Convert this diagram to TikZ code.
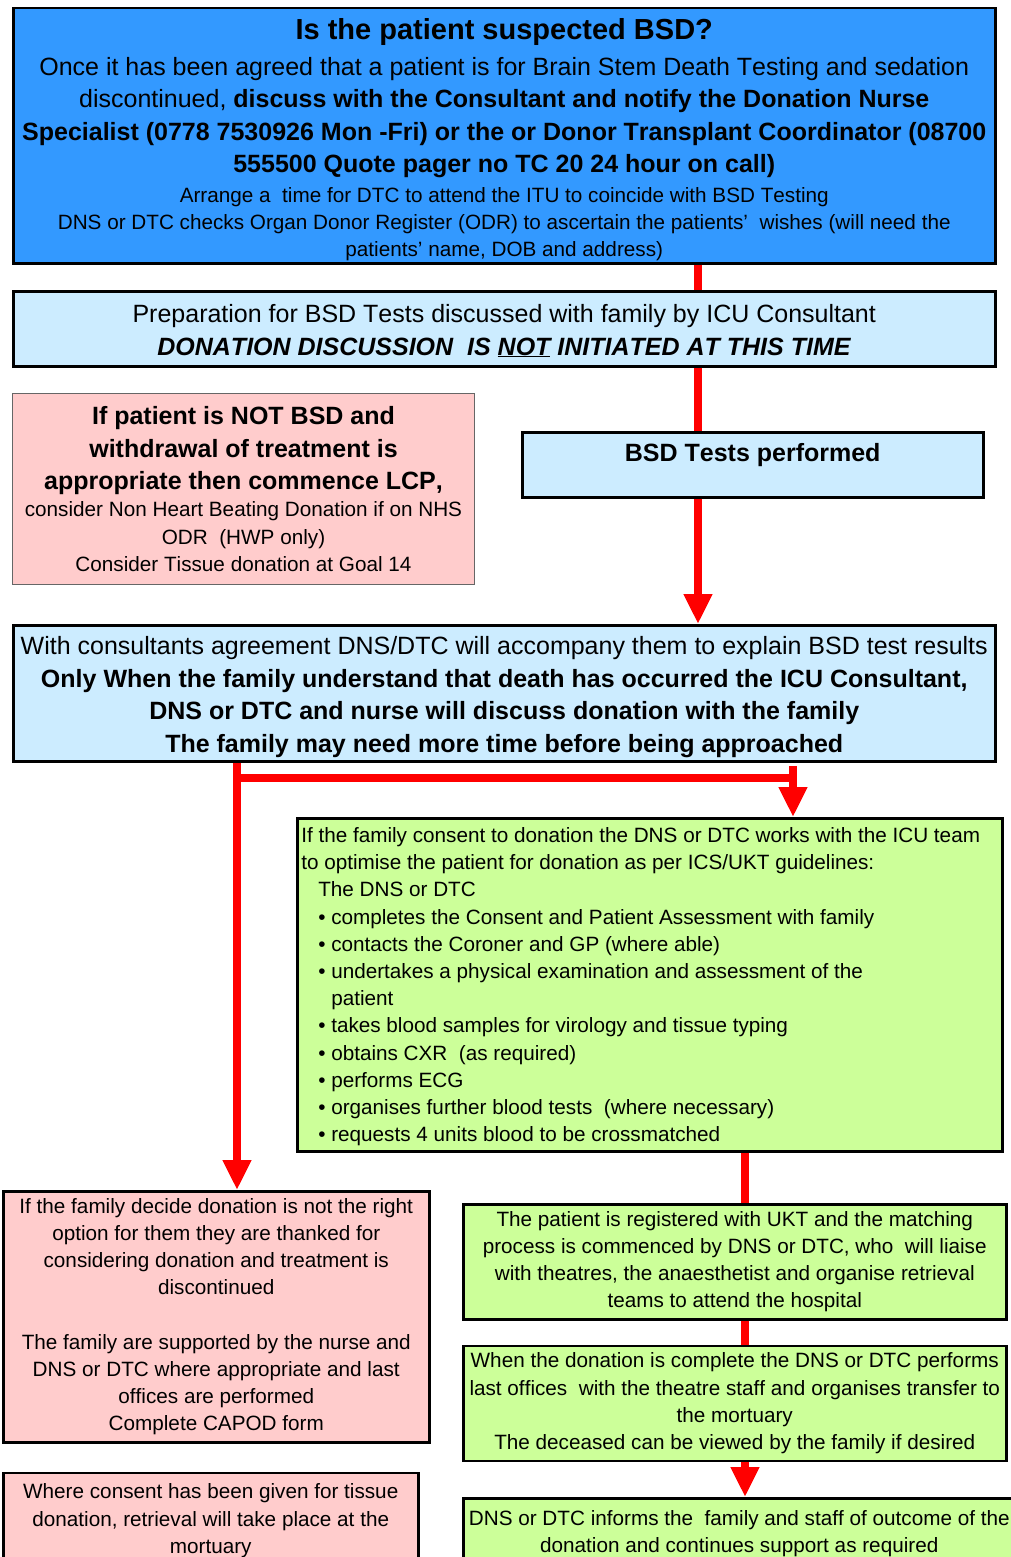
\documentclass[tikz,border=0pt]{standalone}
\usepackage{fontspec}
\setmainfont{Liberation Sans}[Kerning=Off]
\usetikzlibrary{arrows.meta,positioning}

\newcommand\bigtxt{\fontsize{25}{32.5}\selectfont\spaceskip=0.278em\relax}
\newcommand\smalltxt{\fontsize{20.7}{27.2}\selectfont\spaceskip=0.278em\relax}
\newcommand\titletxt{\fontsize{29}{36}\selectfont\spaceskip=0.278em\relax\bfseries}
\newcommand\dotline{\hspace*{17pt}\textbullet\ }
\newcommand\lift[1]{\rule{0pt}{#1}}

\begin{document}
\begin{tikzpicture}[
    x=1pt,y=-1pt,
    box/.style={draw,line width=2.5pt,anchor=north west,inner sep=0pt,align=center},
    thinbox/.style={draw=black!60,line width=1pt,anchor=north west,inner sep=0pt,align=center},
    redline/.style={red,line width=8pt},
    redarrow/.style={red,line width=8pt,-{Triangle[width=27pt,length=30pt]}}
]
    \definecolor{topblue}{RGB}{51,153,255}
    \definecolor{paleblue}{RGB}{204,236,255}
    \definecolor{pinkx}{RGB}{255,204,204}
    \definecolor{greenx}{RGB}{204,255,153}

    \useasboundingbox (0,0) rectangle (1011,1557);
    \clip (0,0) rectangle (1011,1557);

    % columns for the red connectors
    \coordinate (colL) at (237,0);
    \coordinate (colR) at (698,0);
    \coordinate (colG) at (793,0);
    \coordinate (colM) at (745,0);

    \node (susp) [box,fill=topblue,minimum width=982pt,minimum height=255pt,text width=975pt] at (12,7) {%
        {\titletxt\lift{29pt}Is the patient suspected BSD?\par}
        \vspace{3pt}
        {\bigtxt Once it has been agreed that a patient is for Brain Stem Death Testing and sedation\\
        discontinued, \textbf{discuss with the Consultant and notify the Donation Nurse}\\
        \textbf{Specialist (0778 7530926 Mon -Fri) or the or Donor Transplant Coordinator (08700}\\
        \textbf{555500 Quote pager no TC 20 24 hour on call)}\par}
        \vspace{2pt}
        {\smalltxt Arrange a \ time for DTC to attend the ITU to coincide with BSD Testing\\
        DNS or DTC checks Organ Donor Register (ODR) to ascertain the patients’ \ wishes (will need the\\
        patients’ name, DOB and address)\par}};

    \node (prep) [box,fill=paleblue,minimum width=982pt,minimum height=75pt,text width=975pt] at (12,290) {%
        {\bigtxt\lift{22.3pt}Preparation for BSD Tests discussed with family by ICU Consultant\\
        \textbf{\textit{DONATION DISCUSSION \ IS \underline{NOT} INITIATED AT THIS TIME}}\par}};

    \node (notbsd) [thinbox,fill=pinkx,minimum width=462pt,minimum height=191pt,text width=455pt] at (12,393) {%
        {\bigtxt\bfseries If patient is NOT BSD and\\
        withdrawal of treatment is\\
        appropriate then commence LCP,\par}
        {\smalltxt consider Non Heart Beating Donation if on NHS\\
        ODR \ (HWP only)\\
        Consider Tissue donation at Goal 14\par}};

    \node (bsd) [box,fill=paleblue,minimum width=461pt,minimum height=65pt,text width=455pt,text depth=24pt] at (521,431) {%
        {\bigtxt\bfseries BSD Tests performed\par}};

    \node (cons) [box,fill=paleblue,minimum width=982pt,minimum height=136pt,text width=978pt] at (12,624) {%
        {\bigtxt\lift{26pt}With consultants agreement DNS/DTC will accompany them to explain BSD test results\\
        \textbf{Only When the family understand that death has occurred the ICU Consultant,}\\
        \textbf{DNS or DTC and nurse will discuss donation with the family}\\
        \textbf{The family may need more time before being approached}\par}};

    \node (consent) [box,fill=greenx,minimum width=705pt,minimum height=333pt,text width=697pt,align=left] at (296,817) {%
        {\smalltxt\lift{19.1pt}If the family consent to donation the DNS or DTC works with the ICU team\\
        to optimise the patient for donation as per ICS/UKT guidelines:\\
        \hspace*{17pt}The DNS or DTC\\
        \dotline completes the Consent and Patient Assessment with family\\
        \dotline contacts the Coroner and GP (where able)\\
        \dotline undertakes a physical examination and assessment of the\\
        \hspace*{30pt}patient\\
        \dotline takes blood samples for virology and tissue typing\\
        \dotline obtains CXR \ (as required)\\
        \dotline performs ECG\\
        \dotline organises further blood tests \ (where necessary)\\
        \dotline requests 4 units blood to be crossmatched\par}};

    \node (decline) [box,fill=pinkx,minimum width=426pt,minimum height=251pt,text width=420pt] at (2,1190) {%
        {\smalltxt If the family decide donation is not the right\\
        option for them they are thanked for\\
        considering donation and treatment is\\
        discontinued\\[27.2pt]
        The family are supported by the nurse and\\
        DNS or DTC where appropriate and last\\
        offices are performed\\
        Complete CAPOD form\par}};

    \node (tissue) [box,fill=pinkx,minimum width=415pt,minimum height=96pt,text width=410pt,below=28pt of decline.south west,anchor=north west] {%
        {\smalltxt Where consent has been given for tissue\\
        donation, retrieval will take place at the\\
        mortuary\par}};

    \node (reg) [box,fill=greenx,minimum width=543pt,minimum height=115pt,text width=538pt] at (462,1203) {%
        {\smalltxt The patient is registered with UKT and the matching\\
        process is commenced by DNS or DTC, who \ will liaise\\
        with theatres, the anaesthetist and organise retrieval\\
        teams to attend the hospital\par}};

    \node (done) [box,fill=greenx,minimum width=543pt,minimum height=115pt,text width=540pt,below=24pt of reg] {%
        {\smalltxt When the donation is complete the DNS or DTC performs\\
        last offices \ with the theatre staff and organises transfer to\\
        the mortuary\\
        The deceased can be viewed by the family if desired\par}};

    \node (inform) [box,fill=greenx,minimum width=552pt,minimum height=70pt,text width=550pt,below=35pt of done.south west,anchor=north west] {%
        {\smalltxt DNS or DTC informs the \ family and staff of outcome of the\\
        donation and continues support as required\par}};

    % connectors
    \draw[redline]  (susp.south -| colR) -- (prep.north -| colR);
    \draw[redline]  (prep.south -| colR) -- (bsd.north -| colR);
    \draw[redarrow] (bsd.south -| colR) -- (cons.north -| colR);
    \draw[redarrow] (cons.south -| colL) -- (decline.north -| colL);
    \coordinate (fork) at (237,778);
    \draw[redline]  (fork) -- ([xshift=4pt]fork -| colG);
    \draw[redarrow] ([yshift=12pt]fork -| colG) -- (consent.north -| colG);
    \draw[redline]  (consent.south -| colM) -- (reg.north -| colM);
    \draw[redline]  (reg.south -| colM) -- (done.north -| colM);
    \draw[redarrow] (done.south -| colM) -- (inform.north -| colM);
\end{tikzpicture}
\end{document}
